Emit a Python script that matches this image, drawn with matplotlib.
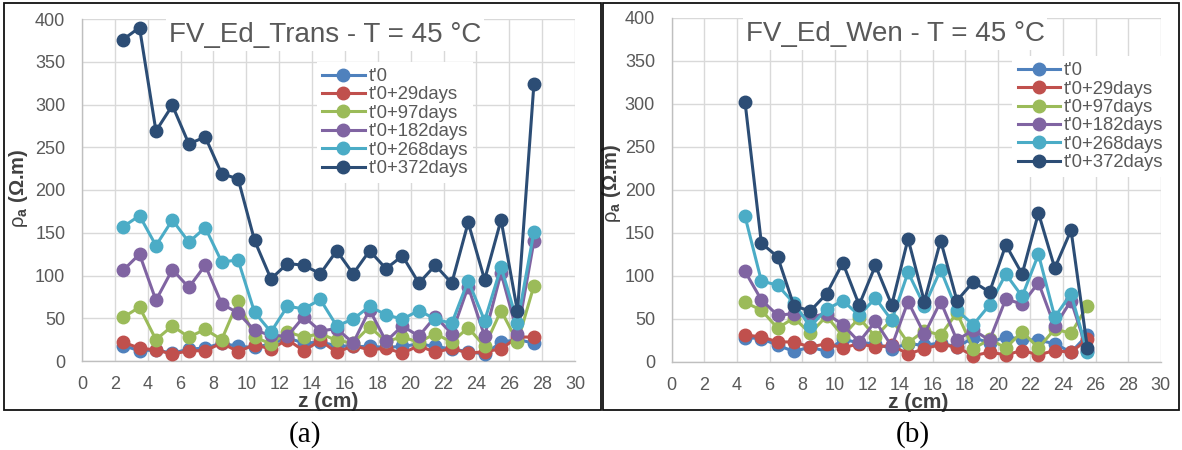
import matplotlib
matplotlib.use('Agg')
from matplotlib import pyplot as plt
from matplotlib.patches import Rectangle

plt.rcParams['font.family'] = ['Liberation Sans', 'DejaVu Sans']
plt.rcParams['mathtext.fontset'] = 'custom'
plt.rcParams['mathtext.rm'] = 'Liberation Sans'
plt.rcParams['mathtext.it'] = 'Liberation Sans'
plt.rcParams['mathtext.bf'] = 'Liberation Sans:bold'

# ---------------- data ----------------
labels = ["t'0", "t'0+29days", "t'0+97days", "t'0+182days", "t'0+268days", "t'0+372days"]
colors = ['#4F81BD', '#C0504D', '#9BBB59', '#8064A2', '#4BACC6', '#2C4D75']

z_trans = [2.5 + i for i in range(26)]
trans_t0 = [18, 12, 13, 9, 14, 15, 21, 17, 16, 20, 27, 21, 22, 18, 17, 17, 16, 17, 20, 17, 14, 11, 8, 22, 25, 21]
trans_29 = [22, 15, 13, 8, 12, 12, 21, 11, 19, 14, 25, 12, 24, 10, 18, 13, 15, 9, 18, 10, 15, 9, 11, 14, 28, 28]
trans_97 = [51, 63, 25, 41, 28, 37, 25, 70, 28, 20, 34, 28, 32, 24, 21, 40, 23, 28, 22, 32, 22, 39, 17, 59, 22, 88]
trans_182 = [106, 125, 71, 107, 86, 112, 67, 56, 36, 30, 29, 52, 35, 38, 21, 60, 23, 41, 29, 52, 32, 87, 29, 103, 32, 140]
trans_268 = [157, 170, 135, 165, 139, 156, 116, 118, 57, 34, 64, 61, 72, 41, 49, 64, 54, 49, 59, 49, 44, 94, 47, 110, 45, 151]
trans_372 = [376, 390, 269, 299, 254, 262, 219, 213, 141, 96, 114, 112, 102, 129, 102, 129, 108, 123, 91, 112, 91, 162, 95, 165, 58, 324]

z_wen = [4.5 + i for i in range(22)]
wen_t0 = [28, 27, 19, 12, 17, 12, 26, 22, 21, 15, 21, 19, 22, 17, 28, 22, 29, 26, 25, 21, 11, 31]
wen_29 = [31, 29, 23, 23, 17, 21, 16, 21, 17, 19, 9, 15, 20, 17, 7, 11, 8, 13, 8, 13, 11, 26]
wen_97 = [69, 60, 39, 51, 33, 53, 30, 51, 29, 49, 22, 36, 31, 57, 15, 26, 16, 35, 16, 38, 33, 65]
wen_182 = [105, 72, 54, 56, 52, 56, 43, 23, 47, 18, 70, 32, 70, 25, 37, 25, 73, 67, 92, 41, 71, 12]
wen_268 = [169, 94, 89, 68, 41, 61, 71, 54, 74, 48, 104, 65, 107, 60, 43, 66, 102, 76, 125, 52, 79, 11]
wen_372 = [302, 138, 122, 65, 59, 79, 115, 66, 112, 66, 143, 70, 141, 71, 93, 81, 136, 102, 173, 109, 153, 16]

x_ticks = list(range(0, 31, 2))
y_ticks = list(range(0, 401, 50))

txt_grey = '#595959'
grid_grey = '#D9D9D9'

fig = plt.figure(figsize=(11.82, 4.5), dpi=100)


def draw_panel(rect, z, series, title, title_x, leg_anchor):
    ax = fig.add_axes(rect)
    for vals, lab, col in zip(series, labels, colors):
        ax.plot(z, vals, color=col, lw=2.2, marker='o', ms=9, label=lab, clip_on=False, zorder=3)
    ax.set_xlim(0, 30)
    ax.set_ylim(0, 400)
    ax.set_xticks(x_ticks)
    ax.set_yticks(y_ticks)
    ax.grid(True, color=grid_grey, lw=1)
    ax.set_axisbelow(True)
    for s in ['top', 'right']:
        ax.spines[s].set_visible(False)
    for s in ['left', 'bottom']:
        ax.spines[s].set_color('#BFBFBF')
        ax.spines[s].set_linewidth(1)
    ax.tick_params(length=0, labelsize=13, labelcolor=txt_grey, pad=11)
    ax.tick_params(axis='y', pad=12)
    ax.text(title_x, 0.953, title, transform=ax.transAxes, ha='center', va='center',
            fontsize=20, color=txt_grey, zorder=5,
            bbox=dict(facecolor='white', edgecolor='none', pad=2))
    leg = ax.legend(loc='upper left', bbox_to_anchor=leg_anchor, frameon=True, fancybox=False,
                    framealpha=1, edgecolor='none', fontsize=13.3, labelspacing=0.08,
                    handlelength=2.3, handletextpad=0.2, borderpad=0.3, borderaxespad=0)
    for t in leg.get_texts():
        t.set_color(txt_grey)
    leg.set_zorder(4)
    ax.set_xlabel('z (cm)', fontsize=15, fontweight='bold', color='#404040')
    ax.set_ylabel(r'$\rho_\mathregular{a}$ (Ω.m)', fontsize=14.5, fontweight='bold', color='#404040')
    return ax


ax1 = draw_panel([82 / 1182, 1 - 361 / 450, 493 / 1182, 342 / 450], z_trans,
                 [trans_t0, trans_29, trans_97, trans_182, trans_268, trans_372],
                 'FV_Ed_Trans - T = 45 °C', 0.493, (0.476, 0.873))
ax1.xaxis.set_label_coords(0.499, -0.09)
ax1.yaxis.set_label_coords(-0.105, 0.506)

ax2 = draw_panel([671.7 / 1182, 1 - 361.7 / 450, 489 / 1182, 343.7 / 450], z_wen,
                 [wen_t0, wen_29, wen_97, wen_182, wen_268, wen_372],
                 'FV_Ed_Wen - T = 45 °C', 0.457, (0.696, 0.888))
ax2.xaxis.set_label_coords(0.504, -0.09)
ax2.yaxis.set_label_coords(-0.1, 0.52)

# panel frames
fig.patches.append(Rectangle((4 / 1182, 1 - 410 / 450), 597 / 1182, 407 / 450,
                             transform=fig.transFigure, fill=False, ec='#111111', lw=1.3))
fig.patches.append(Rectangle((603 / 1182, 1 - 410 / 450), 576 / 1182, 407 / 450,
                             transform=fig.transFigure, fill=False, ec='#111111', lw=1.3))

fig.text(305 / 1182, 1 - 435 / 450, '(a)', ha='center', va='center', fontsize=21,
         family='Liberation Serif', color='black')
fig.text(913 / 1182, 1 - 435 / 450, '(b)', ha='center', va='center', fontsize=21,
         family='Liberation Serif', color='black')

fig.savefig('out.png', dpi=100)
